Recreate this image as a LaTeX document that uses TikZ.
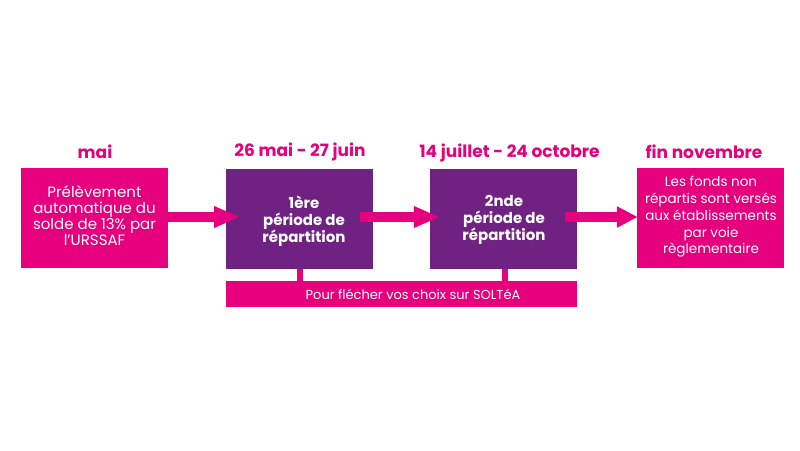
\documentclass[tikz,border=0pt]{standalone}
\usepackage{fontspec}
\setmainfont{Poppins}
\usetikzlibrary{arrows.meta}
\definecolor{rose}{HTML}{E6007E}
\definecolor{violet}{HTML}{6F2282}
\begin{document}
\begin{tikzpicture}[x=1pt,y=-1pt,
  box/.style={minimum width=147pt,minimum height=100pt,inner sep=0pt,text=white,align=center},
  pinkbox/.style={box,fill=rose},
  purplebox/.style={box,fill=violet},
  boxtxt/.style={font=\fontsize{15}{16}\selectfont,text=white,align=center,inner sep=0pt},
  title/.style={font=\fontsize{17}{18}\selectfont\bfseries,text=rose,inner sep=0pt},
  bigarrow/.style={rose,line width=10pt,-{Triangle[width=20pt,length=26pt]}},
  stem/.style={rose,line width=6pt}]
\useasboundingbox (0,0) rectangle (800,450);
\fill[white] (0,0) rectangle (800,450);
% boxes
\node[pinkbox] (b1) at (94.5,218) {};
\node[purplebox] (b2) at (299.5,219) {};
\node[purplebox] (b3) at (503.5,219) {};
\node[pinkbox] (b4) at (710.5,218) {};
\node[fill=rose,minimum width=351pt,minimum height=26pt,inner sep=0pt] (bar) at (401.5,294) {};
% stems
\draw[stem] ([xshift=0.5pt]b2.south) -- ([xshift=0.5pt]b2.south |- bar.north);
\draw[stem] ([xshift=1.5pt]b3.south) -- ([xshift=1.5pt]b3.south |- bar.north);
% texts
\node[boxtxt] (t1) at (94.5,216) {Prélèvement\\automatique du\\solde de 13\% par\\l’URSSAF};
\node[boxtxt,font=\fontsize{15}{17}\selectfont\bfseries] (t2) at (304,221) {1ère\\période de\\répartition};
\node[boxtxt,font=\fontsize{15}{17}\selectfont\bfseries] (t3) at (504,220) {2nde\\période de\\répartition};
\node[boxtxt,font=\fontsize{13.5}{16.75}\selectfont] (t4) at (711,217) {Les fonds non\\répartis sont versés\\aux établissements\\par voie\\règlementaire};
\node[font=\fontsize{13}{14}\selectfont,text=white,inner sep=0pt] (tb) at (413,294) {Pour flécher vos choix sur SOLTéA};
% titles
\node[title] (h1) at (95,152) {mai};
\node[title] (h2) at (300,152) {26 mai - 27 juin};
\node[title] (h3) at (509.5,153) {14 juillet - 24 octobre};
\node[title] (h4) at (704,152) {fin novembre};
% arrows
\draw[bigarrow] (b1.east |- 0,217) -- (240,217) coordinate (a1);
\draw[bigarrow] ([xshift=-13pt]b2.east |- 0,217) -- ([xshift=10pt]b3.west |- 0,217);
\draw[bigarrow,-{Triangle[width=20pt,length=21pt]}] ([xshift=-12pt]b3.east |- 0,217) -- ([xshift=1pt]b4.west |- 0,217);
\end{tikzpicture}
\end{document}
